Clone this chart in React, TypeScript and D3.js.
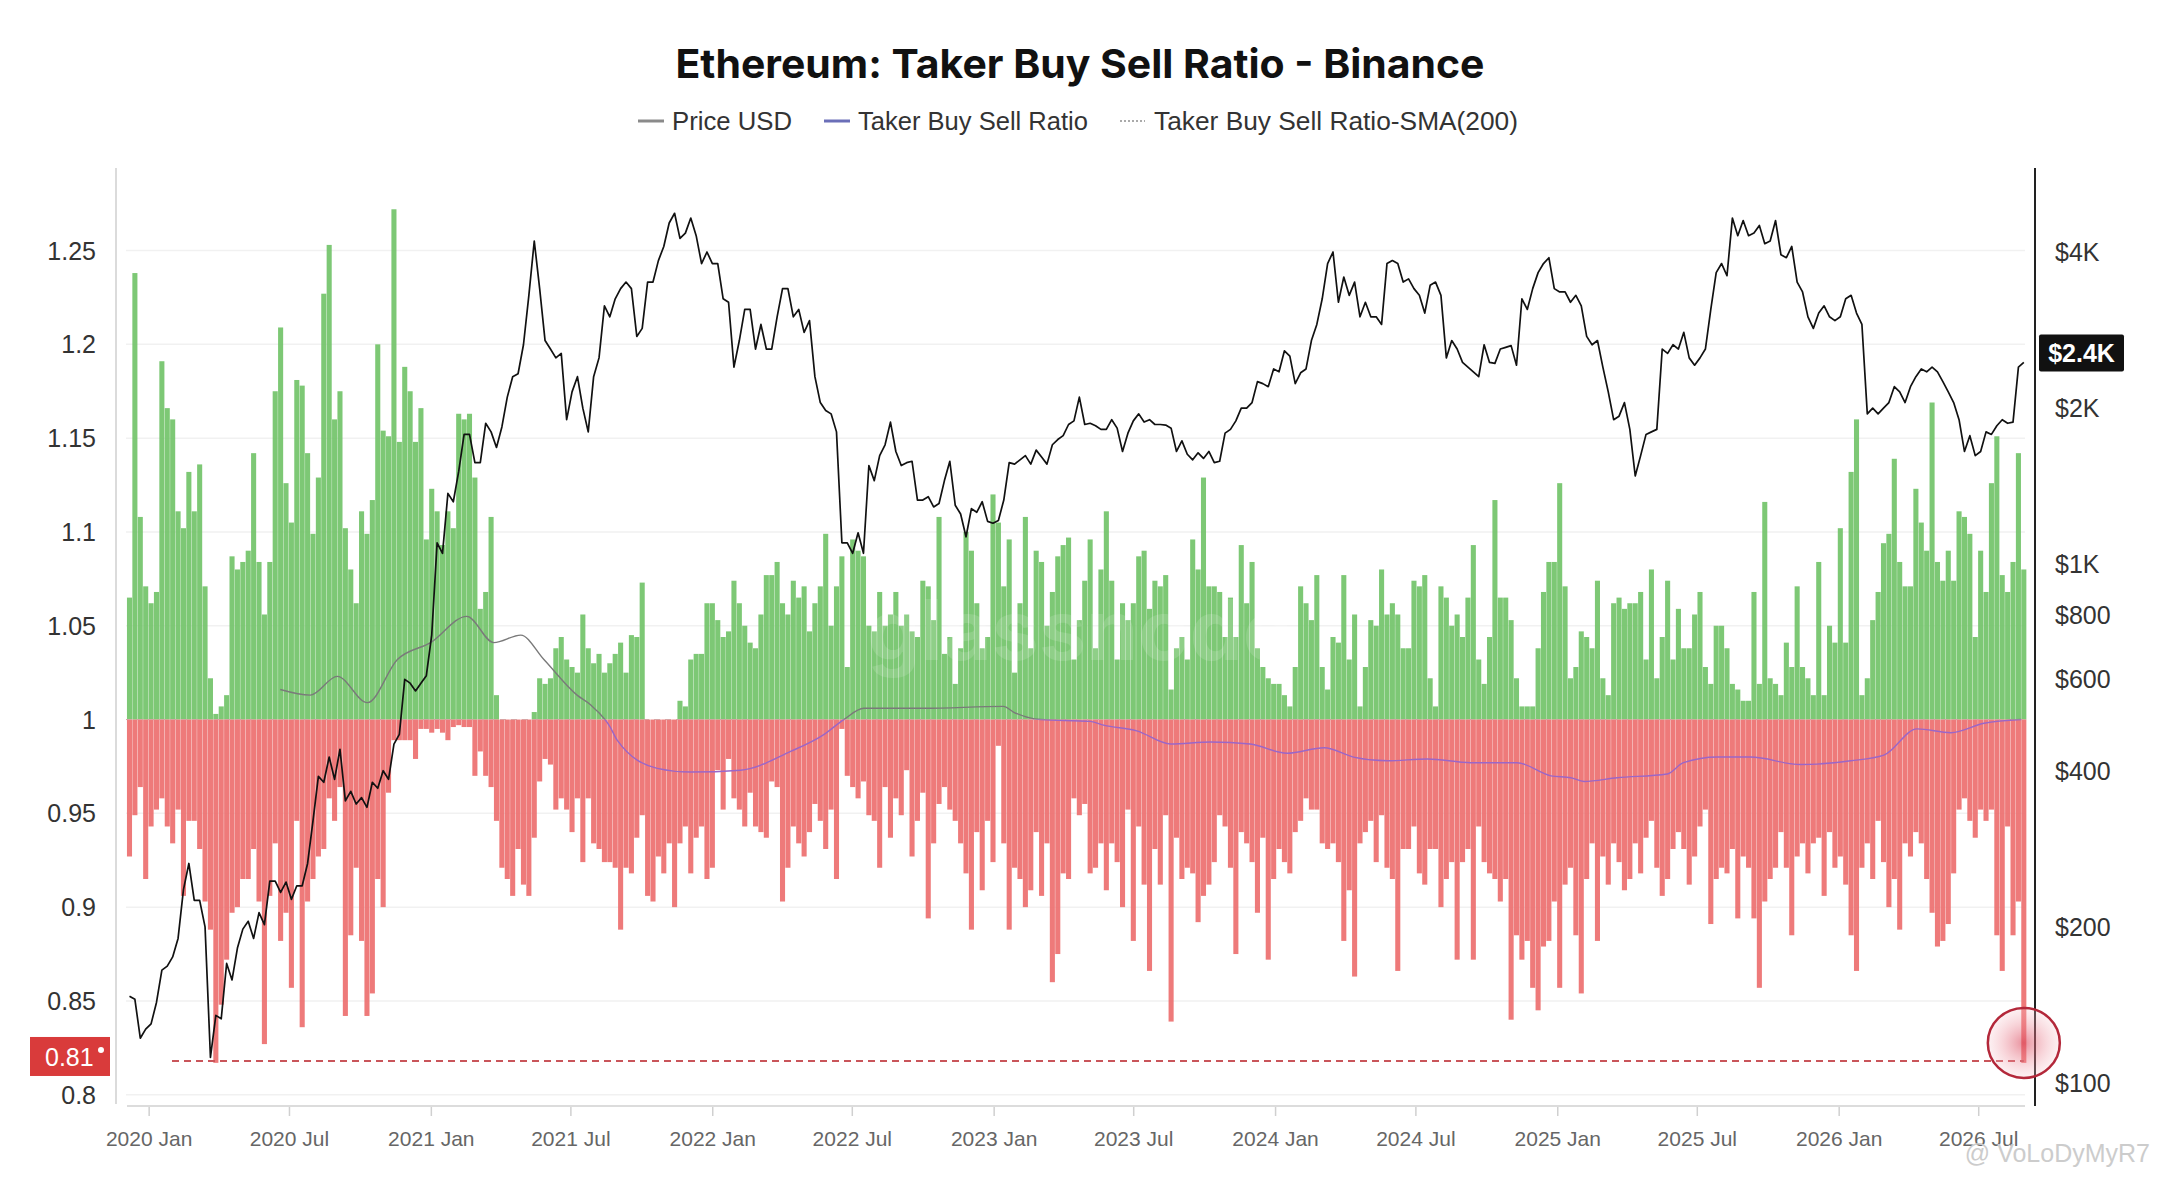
import React from "react";
import * as d3 from "d3";

const TITLE = "Ethereum: Taker Buy Sell Ratio - Binance";
const LEGEND_LABELS = ["Price USD", "Taker Buy Sell Ratio", "Taker Buy Sell Ratio-SMA(200)"];
const FIRST_WEEK = "2019-12-03";

// weekly max of the taker buy/sell ratio
const buyHigh = [
  1.065, 1.238, 1.108, 1.071, 1.062, 1.068, 1.191, 1.166, 1.16, 1.111,
  1.102, 1.132, 1.111, 1.136, 1.071, 1.022, 1.003, 1.007, 1.013, 1.087,
  1.08, 1.084, 1.09, 1.142, 1.084, 1.056, 1.084, 1.175, 1.209, 1.126,
  1.105, 1.181, 1.178, 1.142, 1.099, 1.129, 1.227, 1.253, 1.16, 1.175,
  1.102, 1.08, 1.062, 1.111, 1.099, 1.117, 1.2, 1.154, 1.151, 1.272,
  1.148, 1.188, 1.175, 1.148, 1.166, 1.096, 1.123, 1.111, 1.093, 1.111,
  1.102, 1.163, 1.16, 1.163, 1.129, 1.059, 1.068, 1.108, 1.013, 1.0,
  1.0, 1.0, 1.0, 1.0, 1.0, 1.004, 1.022, 1.019, 1.022, 1.038,
  1.044, 1.032, 1.028, 1.025, 1.056, 1.038, 1.03, 1.035, 1.025, 1.03,
  1.035, 1.041, 1.025, 1.045, 1.044, 1.073, 1.0, 1.0, 1.0, 1.0,
  1.0, 1.0, 1.01, 1.007, 1.032, 1.035, 1.035, 1.062, 1.062, 1.053,
  1.044, 1.047, 1.074, 1.062, 1.05, 1.041, 1.038, 1.056, 1.077, 1.077,
  1.084, 1.062, 1.056, 1.074, 1.065, 1.071, 1.047, 1.062, 1.071, 1.099,
  1.05, 1.071, 1.087, 1.028, 1.096, 1.09, 1.087, 1.05, 1.047, 1.068,
  1.05, 1.056, 1.068, 1.05, 1.056, 1.047, 1.044, 1.074, 1.071, 1.053,
  1.108, 1.035, 1.044, 1.019, 1.038, 1.1, 1.09, 1.062, 1.038, 1.044,
  1.12, 1.105, 1.071, 1.096, 1.025, 1.062, 1.108, 1.038, 1.09, 1.084,
  1.05, 1.068, 1.087, 1.093, 1.097, 1.032, 1.053, 1.074, 1.096, 1.038,
  1.08, 1.111, 1.074, 1.032, 1.062, 1.053, 1.062, 1.087, 1.09, 1.059,
  1.074, 1.071, 1.077, 1.016, 1.038, 1.044, 1.032, 1.096, 1.08, 1.129,
  1.071, 1.071, 1.068, 1.044, 1.065, 1.044, 1.093, 1.062, 1.084, 1.038,
  1.028, 1.022, 1.019, 1.019, 1.013, 1.007, 1.028, 1.071, 1.062, 1.053,
  1.077, 1.028, 1.016, 1.044, 1.041, 1.077, 1.032, 1.056, 1.007, 1.028,
  1.053, 1.05, 1.08, 1.056, 1.062, 1.056, 1.038, 1.038, 1.074, 1.071,
  1.077, 1.022, 1.007, 1.071, 1.065, 1.05, 1.056, 1.044, 1.065, 1.093,
  1.032, 1.019, 1.044, 1.117, 1.065, 1.065, 1.053, 1.022, 1.007, 1.007,
  1.007, 1.038, 1.068, 1.084, 1.084, 1.126, 1.071, 1.022, 1.028, 1.047,
  1.044, 1.038, 1.074, 1.022, 1.013, 1.062, 1.065, 1.059, 1.062, 1.062,
  1.068, 1.032, 1.08, 1.022, 1.044, 1.074, 1.032, 1.059, 1.038, 1.038,
  1.056, 1.068, 1.028, 1.019, 1.05, 1.05, 1.038, 1.019, 1.016, 1.01,
  1.01, 1.068, 1.019, 1.116, 1.022, 1.019, 1.013, 1.041, 1.028, 1.071,
  1.028, 1.022, 1.013, 1.084, 1.013, 1.05, 1.041, 1.102, 1.041, 1.132,
  1.16, 1.013, 1.022, 1.053, 1.068, 1.094, 1.099, 1.139, 1.084, 1.071,
  1.071, 1.123, 1.105, 1.09, 1.169, 1.084, 1.074, 1.09, 1.074, 1.111,
  1.108, 1.099, 1.044, 1.09, 1.068, 1.126, 1.151, 1.077, 1.068, 1.084,
  1.142, 1.08,
];

// weekly min of the taker buy/sell ratio
const sellLow = [
  0.927, 0.949, 0.964, 0.915, 0.943, 0.952, 0.958, 0.943, 0.934, 0.952,
  0.906, 0.946, 0.946, 0.931, 0.903, 0.888, 0.817, 0.848, 0.872, 0.897,
  0.9, 0.915, 0.915, 0.931, 0.903, 0.827, 0.906, 0.934, 0.882, 0.897,
  0.857, 0.946, 0.836, 0.903, 0.915, 0.927, 0.931, 0.958, 0.946, 0.964,
  0.842, 0.885, 0.921, 0.882, 0.842, 0.854, 0.915, 0.9, 0.961, 0.989,
  0.989, 0.989, 0.989, 0.979, 0.995, 0.995, 0.993, 0.995, 0.993, 0.989,
  0.996, 0.997, 0.996, 0.996, 0.97, 0.983, 0.97, 0.964, 0.946, 0.921,
  0.915, 0.906, 0.931, 0.912, 0.906, 0.937, 0.967, 0.979, 0.976, 0.952,
  0.958, 0.952, 0.94, 0.958, 0.924, 0.958, 0.934, 0.931, 0.924, 0.924,
  0.921, 0.888, 0.921, 0.918, 0.937, 0.949, 0.906, 0.903, 0.927, 0.918,
  0.934, 0.9, 0.934, 0.943, 0.918, 0.937, 0.943, 0.915, 0.921, 0.973,
  0.952, 0.979, 0.958, 0.952, 0.943, 0.961, 0.943, 0.94, 0.937, 0.967,
  0.964, 0.903, 0.921, 0.943, 0.934, 0.927, 0.94, 0.955, 0.946, 0.931,
  0.952, 0.915, 0.995, 0.97, 0.964, 0.958, 0.967, 0.949, 0.946, 0.921,
  0.964, 0.937, 0.958, 0.949, 0.973, 0.927, 0.946, 0.961, 0.894, 0.934,
  0.955, 0.964, 0.952, 0.946, 0.934, 0.918, 0.888, 0.94, 0.909, 0.946,
  0.924, 0.986, 0.934, 0.888, 0.921, 0.915, 0.9, 0.909, 0.94, 0.906,
  0.934, 0.86, 0.875, 0.918, 0.915, 0.958, 0.949, 0.955, 0.918, 0.921,
  0.934, 0.909, 0.934, 0.924, 0.9, 0.952, 0.882, 0.943, 0.912, 0.866,
  0.931, 0.912, 0.949, 0.839, 0.937, 0.915, 0.921, 0.918, 0.892, 0.906,
  0.912, 0.924, 0.949, 0.943, 0.921, 0.875, 0.94, 0.934, 0.924, 0.897,
  0.937, 0.872, 0.915, 0.931, 0.924, 0.918, 0.94, 0.946, 0.958, 0.952,
  0.952, 0.934, 0.931, 0.934, 0.924, 0.882, 0.909, 0.863, 0.934, 0.94,
  0.946, 0.924, 0.949, 0.921, 0.915, 0.866, 0.931, 0.931, 0.943, 0.918,
  0.912, 0.931, 0.931, 0.9, 0.915, 0.924, 0.872, 0.924, 0.931, 0.872,
  0.943, 0.924, 0.918, 0.915, 0.903, 0.915, 0.84, 0.885, 0.872, 0.882,
  0.857, 0.845, 0.879, 0.882, 0.903, 0.857, 0.912, 0.921, 0.885, 0.854,
  0.915, 0.934, 0.882, 0.927, 0.912, 0.934, 0.924, 0.909, 0.915, 0.934,
  0.918, 0.937, 0.946, 0.921, 0.906, 0.915, 0.931, 0.94, 0.931, 0.912,
  0.927, 0.943, 0.952, 0.891, 0.915, 0.921, 0.918, 0.931, 0.894, 0.927,
  0.921, 0.894, 0.857, 0.903, 0.915, 0.921, 0.94, 0.921, 0.885, 0.927,
  0.934, 0.918, 0.934, 0.937, 0.906, 0.94, 0.921, 0.927, 0.912, 0.885,
  0.866, 0.921, 0.934, 0.915, 0.946, 0.924, 0.9, 0.915, 0.888, 0.934,
  0.927, 0.94, 0.934, 0.915, 0.897, 0.879, 0.882, 0.891, 0.918, 0.952,
  0.958, 0.946, 0.937, 0.952, 0.946, 0.952, 0.885, 0.866, 0.943, 0.885,
  0.903, 0.817,
];

// weekly ETH price, USD
const priceUSD = [
  147, 145, 122, 127, 130, 143, 165, 168, 175, 190,
  236, 265, 225, 225, 200, 112, 135, 133, 170, 158,
  182, 198, 205, 190, 213, 202, 245, 245, 233, 244,
  226, 240, 240, 265, 320, 390, 380, 425, 385, 440,
  350, 365, 345, 355, 340, 380, 370, 400, 385, 450,
  470, 600, 590, 570, 590, 610, 730, 1100, 1050, 1370,
  1320, 1510, 1780, 1780, 1570, 1570, 1870, 1800, 1680, 1840,
  2100, 2300, 2330, 2650, 3300, 4200, 3400, 2700, 2600, 2500,
  2550, 1900, 2150, 2300, 2000, 1800, 2300, 2500, 3150, 3000,
  3250, 3400, 3500, 3400, 2750, 2850, 3500, 3500, 3850, 4100,
  4550, 4750, 4250, 4350, 4650, 4300, 3800, 4000, 3800, 3800,
  3250, 3200, 2400, 2700, 3100, 3100, 2600, 2900, 2600, 2600,
  3000, 3400, 3400, 3000, 3100, 2800, 2950, 2300, 2050, 1980,
  1950, 1800, 1100, 1100, 1050, 1150, 1050, 1550, 1450, 1620,
  1700, 1880, 1650, 1550, 1570, 1580, 1330, 1330, 1350, 1290,
  1310, 1450, 1580, 1300, 1250, 1130, 1280, 1260, 1320, 1210,
  1200, 1215, 1330, 1570, 1560, 1590, 1620, 1560, 1660, 1610,
  1560, 1700, 1740, 1770, 1860, 1890, 2100, 1860, 1870, 1850,
  1820, 1820, 1900, 1830, 1650, 1790, 1890, 1950, 1880, 1900,
  1860, 1860, 1855, 1830, 1650, 1730, 1630, 1590, 1640, 1600,
  1650, 1570, 1580, 1790, 1820, 1890, 2000, 2000, 2050, 2250,
  2230, 2200, 2380, 2350, 2580, 2520, 2230, 2340, 2380, 2700,
  2900, 3250, 3800, 4000, 3200, 3580, 3300, 3500, 3000, 3200,
  3000, 3000, 2900, 3800, 3850, 3800, 3500, 3550, 3400, 3300,
  3050, 3450, 3500, 3300, 2500, 2700, 2600, 2450, 2400, 2350,
  2300, 2650, 2450, 2440, 2600, 2620, 2640, 2420, 3250, 3100,
  3400, 3650, 3800, 3900, 3400, 3350, 3350, 3200, 3300, 3150,
  2750, 2650, 2700, 2400, 2150, 1900, 1930, 2050, 1820, 1480,
  1620, 1780, 1800, 1820, 2600, 2550, 2650, 2600, 2800, 2500,
  2420, 2500, 2600, 3100, 3650, 3800, 3600, 4650, 4300, 4600,
  4300, 4350, 4500, 4150, 4200, 4600, 3950, 3900, 4100, 3500,
  3350, 3000, 2850, 3050, 3150, 3000, 2950, 3000, 3250, 3300,
  3050, 2900, 1950, 2000, 1950, 2000, 2050, 2200, 2150, 2050,
  2200, 2300, 2380, 2350, 2400, 2350, 2250, 2150, 2050, 1900,
  1650, 1770, 1620, 1650, 1800, 1780, 1850, 1900, 1870, 1880,
  2400, 2450,
];

const smaDates = [
  "2020-06-19", "2020-07-28", "2020-09-01", "2020-10-10", "2020-11-18", "2020-12-31",
  "2021-02-16", "2021-03-23", "2021-04-27", "2021-05-27", "2021-07-09", "2021-07-26",
  "2021-08-21", "2021-08-30", "2021-10-21", "2021-12-03", "2022-02-06", "2022-04-12",
  "2022-05-25", "2022-06-20", "2022-07-16", "2022-10-02", "2023-01-13", "2023-01-26",
  "2023-03-02", "2023-05-06", "2023-05-23", "2023-07-05", "2023-08-18", "2023-10-09",
  "2023-11-29", "2024-01-16", "2024-03-04", "2024-04-11", "2024-05-25", "2024-07-16",
  "2024-09-10", "2024-11-09", "2024-12-23", "2025-01-18", "2025-02-04", "2025-03-19",
  "2025-05-23", "2025-06-13", "2025-07-27", "2025-09-08", "2025-11-12", "2026-01-16",
  "2026-02-28", "2026-04-12", "2026-05-26", "2026-07-08", "2026-08-25",
];
const smaValues = [
  1.016, 1.013, 1.023, 1.009, 1.032, 1.041,
  1.055, 1.041, 1.045, 1.032, 1.013, 1.008,
  0.996, 0.989, 0.974, 0.972, 0.973, 0.983,
  0.992, 1.0, 1.006, 1.006, 1.007, 1.004,
  1.0, 0.999, 0.997, 0.994, 0.987, 0.988,
  0.987, 0.982, 0.985, 0.98, 0.978, 0.979,
  0.977, 0.977, 0.97, 0.969, 0.967, 0.969,
  0.971, 0.977, 0.98, 0.98, 0.976, 0.978,
  0.981, 0.995, 0.993, 0.998, 1.0,
];

const ratioTicks = [0.8, 0.85, 0.9, 0.95, 1, 1.05, 1.1, 1.15, 1.2, 1.25];
const priceTicks = [100, 200, 400, 600, 800, 1000, 2000, 4000];
const priceTickLabels = ["$100", "$200", "$400", "$600", "$800", "$1K", "$2K", "$4K"];
const xTickDates = [
  "2020-01-01", "2020-07-01", "2021-01-01", "2021-07-01", "2022-01-01", "2022-07-01", "2023-01-01",
  "2023-07-01", "2024-01-01", "2024-07-01", "2025-01-01", "2025-07-01", "2026-01-01", "2026-07-01",
];
const xTickLabels = [
  "2020 Jan", "2020 Jul", "2021 Jan", "2021 Jul", "2022 Jan", "2022 Jul", "2023 Jan",
  "2023 Jul", "2024 Jan", "2024 Jul", "2025 Jan", "2025 Jul", "2026 Jan", "2026 Jul",
];
const THRESHOLD = 0.818;
const THRESHOLD_LABEL = "0.81";
const LAST_PRICE_LABEL = "$2.4K";
const WATERMARK = "@ VoLoDyMyR7";

const W = 2160;
const H = 1178;
const X0 = 116;
const X1 = 2035;
const YT = 168;
const YB = 1106;
const FONT = "'Liberation Sans', Arial, sans-serif";
const TFONT = "Inter, 'Liberation Sans', Arial, sans-serif";

export default function App() {
  const parse = d3.timeParse("%Y-%m-%d");
  const start = parse(FIRST_WEEK) as Date;
  const weeks = buyHigh.map((_, i) => d3.timeDay.offset(start, 7 * i));

  const x = d3
    .scaleTime()
    .domain([parse("2019-11-19") as Date, parse("2026-09-12") as Date])
    .range([X0, X1]);
  const yR = d3.scaleLinear().domain([0.794, 1.294]).range([YB, YT]);
  const yP = d3.scaleLog().domain([100, 4000]).range([1083, 252]);

  const slot = x(weeks[1]) - x(weeks[0]);
  const bw = slot * 0.94;
  const y1 = yR(1);

  const priceLine = d3
    .line<number>()
    .x((_, i) => x(weeks[i]) + slot / 2)
    .y((d) => yP(d))
    .curve(d3.curveLinear)(priceUSD) as string;

  const smaLine = d3
    .line<number>()
    .x((_, i) => x(parse(smaDates[i]) as Date))
    .y((d) => yR(d))
    .curve(d3.curveMonotoneX)(smaValues) as string;

  const lastX = x(weeks[weeks.length - 1]) + slot / 2;
  const lastPriceY = yP(priceUSD[priceUSD.length - 1]);
  const thrY = yR(THRESHOLD);

  return (
    <svg
      width={W}
      height={H}
      viewBox={`0 0 ${W} ${H}`}
      style={{ position: "absolute", left: 0, top: 0, background: "#fff" }}
    >
      <defs>
        <clipPath id="above">
          <rect x={X0} y={YT} width={X1 - X0} height={y1 - YT} />
        </clipPath>
        <clipPath id="below">
          <rect x={X0} y={y1} width={X1 - X0} height={YB - y1} />
        </clipPath>
        <radialGradient id="glow" cx="50%" cy="50%" r="50%">
          <stop offset="0%" stopColor="#d9455a" stopOpacity={0.6} />
          <stop offset="60%" stopColor="#ec8a98" stopOpacity={0.35} />
          <stop offset="100%" stopColor="#f6c9d0" stopOpacity={0.25} />
        </radialGradient>
      </defs>
      <rect x={0} y={0} width={W} height={H} fill="#fff" />

      {/* title */}
      <text
        x={1080}
        y={78}
        textAnchor="middle"
        fontFamily={TFONT}
        fontWeight={700}
        fontSize={40}
        fill="#111"
        textLength={809}
        lengthAdjust="spacingAndGlyphs"
      >
        {TITLE}
      </text>

      {/* legend */}
      <g fontFamily={FONT} fontSize={25} fill="#333">
        <line x1={638} x2={664} y1={121} y2={121} stroke="#8a8a8a" strokeWidth={3} />
        <text x={672} y={130} textLength={120} lengthAdjust="spacingAndGlyphs">
          {LEGEND_LABELS[0]}
        </text>
        <line x1={824} x2={850} y1={121} y2={121} stroke="#6b6fb8" strokeWidth={3} />
        <text x={858} y={130} textLength={230} lengthAdjust="spacingAndGlyphs">
          {LEGEND_LABELS[1]}
        </text>
        <line
          x1={1120}
          x2={1145}
          y1={121}
          y2={121}
          stroke="#aaa"
          strokeWidth={2}
          strokeDasharray="2 2"
        />
        <text x={1154} y={130} textLength={364} lengthAdjust="spacingAndGlyphs">
          {LEGEND_LABELS[2]}
        </text>
      </g>

      {/* gridlines */}
      {ratioTicks
        .filter((t) => t !== 1)
        .map((t) => (
          <line key={"g" + t} x1={X0 + 10} x2={X1 - 10} y1={yR(t)} y2={yR(t)} stroke="#f1f1f1" strokeWidth={1.5} />
        ))}

      {/* bars */}
      <g>
        {weeks.map((d, i) => {
          const cx = x(d) + slot / 2;
          const hi = buyHigh[i];
          const lo = sellLow[i];
          return (
            <g key={"b" + i}>
              {hi > 1 && (
                <rect x={cx - bw / 2} y={yR(hi)} width={bw} height={y1 - yR(hi)} fill="#6fc266" fillOpacity={0.9} />
              )}
              {lo < 1 && (
                <rect x={cx - bw / 2} y={y1} width={bw} height={yR(lo) - y1} fill="#ec6b6b" fillOpacity={0.9} />
              )}
            </g>
          );
        })}
      </g>

      {/* faint source watermark */}
      <text
        x={1080}
        y={660}
        textAnchor="middle"
        fontFamily={TFONT}
        fontWeight={700}
        fontSize={84}
        fill="#ffffff"
        fillOpacity={0.14}
      >
        glassnode
      </text>

      {/* baseline 1.0 */}
      <line x1={X0 + 10} x2={X1 - 10} y1={y1} y2={y1} stroke="#d7a3a3" strokeWidth={1} strokeDasharray="6 5" />

      {/* SMA */}
      <path d={smaLine} fill="none" stroke="#7a7a7a" strokeWidth={1.4} clipPath="url(#above)" />
      <path d={smaLine} fill="none" stroke="#9a66c8" strokeWidth={1.4} clipPath="url(#below)" />

      {/* price */}
      <path d={priceLine} fill="none" stroke="#111" strokeWidth={1.7} strokeLinejoin="round" />

      {/* threshold line */}
      <line
        x1={172}
        x2={lastX}
        y1={thrY}
        y2={thrY}
        stroke="#c9555a"
        strokeWidth={2}
        strokeDasharray="7 5"
      />

      {/* axes */}
      <line x1={X0} x2={X0} y1={YT} y2={YB - 2} stroke="#cfcfcf" strokeWidth={1.5} />
      <line x1={X1} x2={X1} y1={YT} y2={YB} stroke="#222" strokeWidth={2} />
      <line x1={127} x2={2025} y1={YB} y2={YB} stroke="#dcdcdc" strokeWidth={2} />

      <g fontFamily={FONT} fontSize={25} fill="#333">
        {ratioTicks.map((t) => (
          <text key={"l" + t} x={96} y={yR(t)} textAnchor="end" dominantBaseline="central">
            {String(t)}
          </text>
        ))}
        {priceTicks.map((t, i) => (
          <text key={"r" + t} x={2055} y={yP(t)} dominantBaseline="central">
            {priceTickLabels[i]}
          </text>
        ))}
      </g>

      <g fontFamily={FONT} fontSize={21} fill="#666">
        {xTickDates.map((s, i) => {
          const tx = x(parse(s) as Date);
          return (
            <g key={s}>
              <line x1={tx} x2={tx} y1={YB + 1} y2={YB + 10} stroke="#d0d0d0" strokeWidth={1.5} />
              <text x={tx} y={1146} textAnchor="middle">
                {xTickLabels[i]}
              </text>
            </g>
          );
        })}
      </g>

      {/* last price badge */}
      <rect x={2039} y={lastPriceY - 28} width={85} height={37} fill="#111" rx={2} />
      <text
        x={2081.5}
        y={lastPriceY - 9.5}
        textAnchor="middle"
        dominantBaseline="central"
        fontFamily={FONT}
        fontWeight={700}
        fontSize={25}
        fill="#fff"
      >
        {LAST_PRICE_LABEL}
      </text>

      {/* threshold badge */}
      <rect x={30} y={thrY - 24} width={80} height={39} fill="#d93b3b" />
      <text x={45} y={thrY - 4} dominantBaseline="central" fontFamily={FONT} fontSize={25} fill="#fff">
        {THRESHOLD_LABEL}
      </text>
      <circle cx={101} cy={thrY - 11} r={3} fill="#fff" />

      {/* highlight circle */}
      <ellipse cx={lastX} cy={thrY - 18} rx={36} ry={35} fill="url(#glow)" stroke="#b3283a" strokeWidth={2.5} />

      {/* watermark */}
      <text
        x={2150}
        y={1162}
        textAnchor="end"
        fontFamily={FONT}
        fontSize={25}
        fill="#cccccc"
      >
        {WATERMARK}
      </text>
    </svg>
  );
}
